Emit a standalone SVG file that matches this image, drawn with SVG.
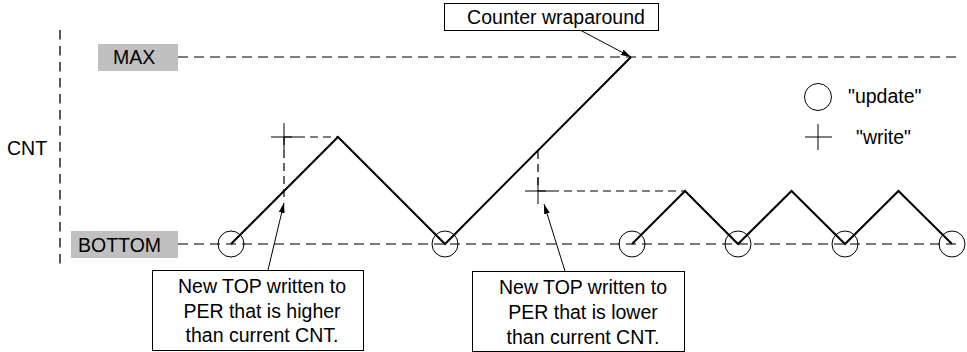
<svg xmlns="http://www.w3.org/2000/svg" width="967" height="352" viewBox="0 0 967 352">
<style>
text{font-family:"Liberation Sans",Arial,sans-serif;font-size:19.5px;fill:#000}
.lvl{fill:#c0c0c0}
.ref{stroke:#505050;stroke-width:1.6;stroke-dasharray:10 6;fill:none}
.axis{stroke:#000;stroke-width:1.3;stroke-dasharray:9.5 6.5;fill:none}
.guide{stroke:#000;stroke-width:1.2;stroke-dasharray:8 5;fill:none}
.cnt{stroke:#000;stroke-width:2;fill:none;stroke-linejoin:miter}
.upd{stroke:#000;stroke-width:1;fill:none}
.wr{stroke:#000;stroke-width:1;fill:none}
.box{fill:#fff;stroke:#000;stroke-width:1}
.arr{stroke:#000;stroke-width:1;fill:none;marker-end:url(#ah)}
.c{text-anchor:middle}
</style>
<defs>
<marker id="ah" viewBox="0 0 10 6" refX="10" refY="3" markerWidth="10" markerHeight="6" markerUnits="userSpaceOnUse" orient="auto">
<path d="M0,0 L10,3 L0,6 Z" fill="#000"/>
</marker>
</defs>

<g id="axis">
<line class="axis" x1="60" y1="30" x2="60" y2="268"/>
<text x="7" y="155">CNT</text>
</g>

<g id="levels">
<line class="ref" x1="178" y1="57" x2="956" y2="57"/>
<line class="ref" x1="178" y1="244" x2="956" y2="244"/>
</g>

<g id="max">
<rect class="lvl" x="98" y="44" width="80" height="27"/>
<text x="113" y="64">MAX</text>
</g>

<g id="bottom">
<rect class="lvl" x="71" y="231" width="107" height="27"/>
<text x="78" y="252">BOTTOM</text>
</g>

<g id="counter">
<polyline class="cnt" points="231,244 338,137 445,244 631,57"/>
<polyline class="cnt" points="632,244 685,191 738,244 791.5,191 845,244 898.5,191 952,244"/>
</g>

<g id="updates">
<circle class="upd" cx="231" cy="244" r="13"/>
<circle class="upd" cx="445" cy="244" r="13"/>
<circle class="upd" cx="632" cy="244" r="13"/>
<circle class="upd" cx="738" cy="244" r="13"/>
<circle class="upd" cx="845" cy="244" r="13"/>
<circle class="upd" cx="952" cy="244" r="13"/>
</g>

<g id="write1">
<line class="guide" x1="284" y1="137" x2="338" y2="137"/>
<line class="guide" x1="284" y1="137" x2="284" y2="200"/>
<line class="wr" x1="271" y1="137" x2="297" y2="137"/>
<line class="wr" x1="284" y1="123" x2="284" y2="150"/>
</g>

<g id="write2">
<line class="guide" x1="538" y1="151" x2="538" y2="191"/>
<line class="guide" x1="538" y1="191" x2="685" y2="191"/>
<line class="wr" x1="525" y1="191" x2="551" y2="191"/>
<line class="wr" x1="538" y1="178" x2="538" y2="204"/>
</g>

<g id="connectors">
<line class="arr" x1="268" y1="270" x2="284" y2="203"/>
<line class="arr" x1="565" y1="271" x2="544" y2="204"/>
<line class="arr" x1="580" y1="30" x2="631" y2="57"/>
</g>

<g id="note-wrap">
<rect class="box" x="444.5" y="3.5" width="214" height="27"/>
<text class="c" x="556" y="24">Counter wraparound</text>
</g>

<g id="note-higher">
<rect class="box" x="152.5" y="270.5" width="211" height="80"/>
<text class="c" x="262" y="293">New TOP written to</text>
<text class="c" x="262" y="318">PER that is higher</text>
<text class="c" x="262" y="342">than current CNT.</text>
</g>

<g id="note-lower">
<rect class="box" x="472.5" y="271.5" width="212" height="80"/>
<text class="c" x="583" y="294">New TOP written to</text>
<text class="c" x="583" y="319">PER that is lower</text>
<text class="c" x="583" y="344">than current CNT.</text>
</g>

<g id="legend">
<circle class="upd" cx="818" cy="97" r="13.5"/>
<text x="848" y="103">"update"</text>
<line class="wr" x1="805" y1="137" x2="832" y2="137"/>
<line class="wr" x1="818" y1="124" x2="818" y2="150"/>
<text x="856" y="144">"write"</text>
</g>
</svg>
